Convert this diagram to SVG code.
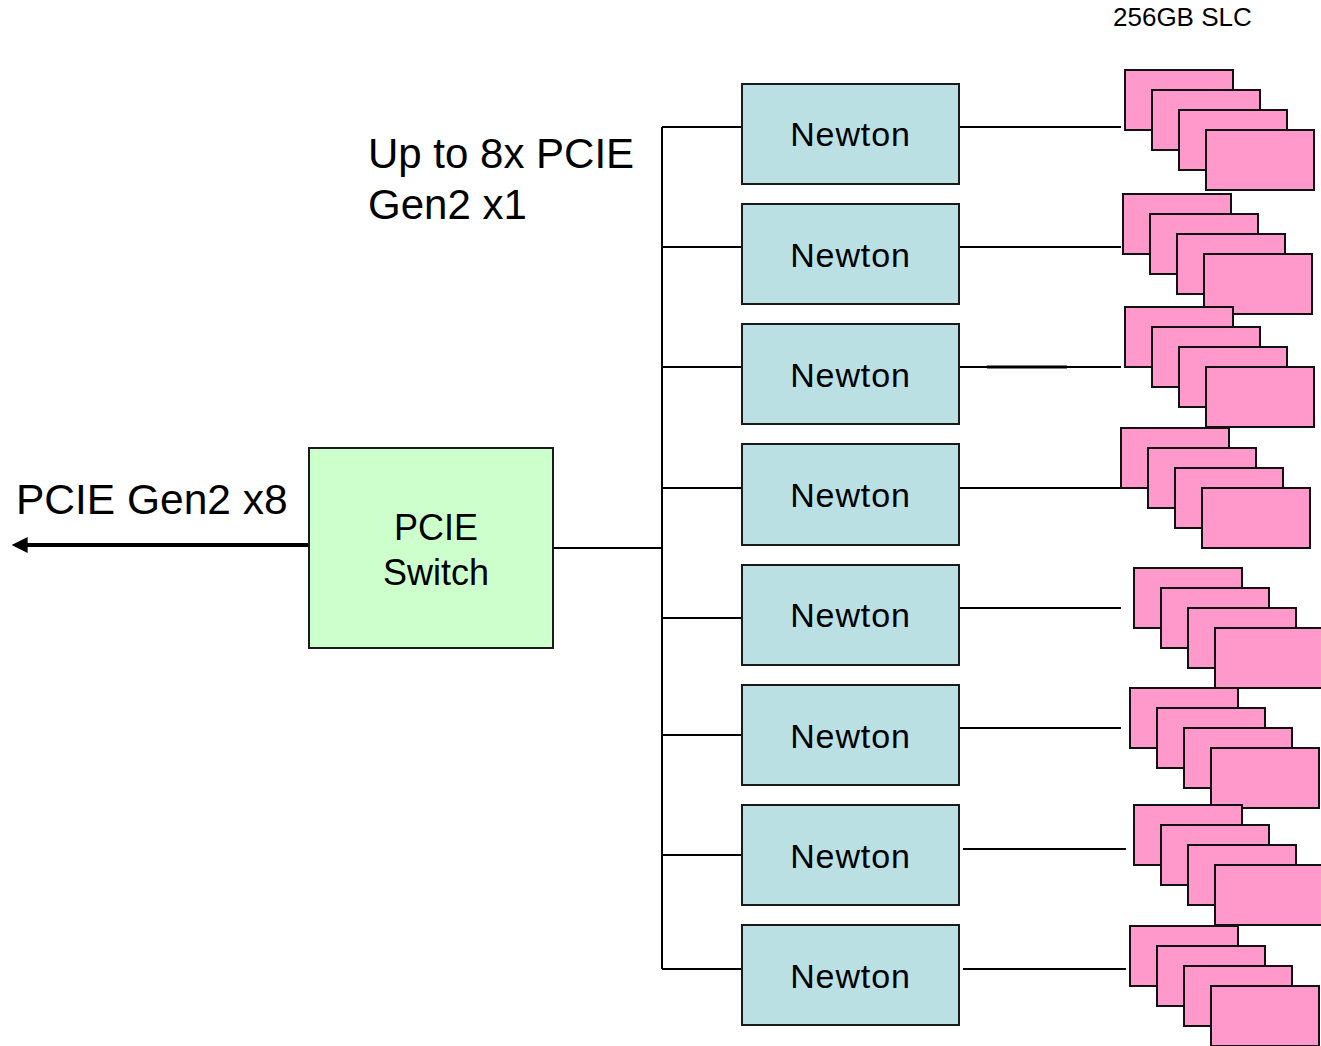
<svg xmlns="http://www.w3.org/2000/svg" width="1321" height="1046" viewBox="0 0 1321 1046">
<defs>
<style>
.t{font-family:"Liberation Sans",Arial,sans-serif;fill:#000}
.nw{fill:#BBE0E3;stroke:#1a1a1a;stroke-width:2}
.sw{fill:#CCFFCC;stroke:#1a1a1a;stroke-width:2}
.pk{fill:#FF99CC;stroke:#111;stroke-width:2}
.ln{stroke:#000;stroke-width:2;fill:none}
.nt{font-size:34px;letter-spacing:0.9px}
</style>
<marker id="ah" viewBox="0 0 10 10" refX="1" refY="5" markerWidth="4.5" markerHeight="4" orient="auto-start-reverse" markerUnits="strokeWidth">
<path d="M0,0 L10,5 L0,10 z" fill="#000"/>
</marker>
<g id="stack">
<rect class="pk" x="0" y="0" width="108" height="60"/>
<rect class="pk" x="27" y="20" width="108" height="60"/>
<rect class="pk" x="54" y="40" width="108" height="60"/>
<rect class="pk" x="81" y="60" width="108" height="60"/>
</g>
</defs>
<rect width="1321" height="1046" fill="#fff"/>

<g id="connectors">
<line x1="309" y1="545" x2="26" y2="545" stroke="#000" stroke-width="4" marker-end="url(#ah)"/>
<polyline class="ln" points="553,548 662,548"/>
<line class="ln" x1="662" y1="127" x2="662" y2="969"/>
<line class="ln" x1="662" y1="127" x2="742" y2="127"/>
<line class="ln" x1="662" y1="247" x2="742" y2="247"/>
<line class="ln" x1="662" y1="367" x2="742" y2="367"/>
<line class="ln" x1="662" y1="488" x2="742" y2="488"/>
<line class="ln" x1="662" y1="618" x2="742" y2="618"/>
<line class="ln" x1="662" y1="735" x2="742" y2="735"/>
<line class="ln" x1="662" y1="855" x2="742" y2="855"/>
<line class="ln" x1="662" y1="969" x2="742" y2="969"/>
<line class="ln" x1="959" y1="127" x2="1121" y2="127"/>
<line class="ln" x1="959" y1="247" x2="1121" y2="247"/>
<line class="ln" x1="959" y1="367" x2="1121" y2="367"/>
<line x1="987" y1="367" x2="1067" y2="367" stroke="#000" stroke-width="3"/>
<line class="ln" x1="959" y1="488" x2="1121" y2="488"/>
<line class="ln" x1="959" y1="608" x2="1121" y2="608"/>
<line class="ln" x1="959" y1="728" x2="1121" y2="728"/>
<line class="ln" x1="963" y1="849" x2="1126" y2="849"/>
<line class="ln" x1="963" y1="969" x2="1126" y2="969"/>
</g>

<g id="label-pcie-gen2-x8"><text class="t" x="16" y="514" font-size="42.5">PCIE Gen2 x8</text></g>
<g id="label-upto"><text class="t" x="368" y="168" font-size="42">Up to 8x PCIE</text><text class="t" x="368" y="219" font-size="42">Gen2 x1</text></g>
<g id="label-slc"><text class="t" x="1113" y="26" font-size="26">256GB SLC</text></g>

<g id="pcie-switch">
<rect class="sw" x="309" y="448" width="244" height="200"/>
<text class="t" x="436" y="540" font-size="36" text-anchor="middle">PCIE</text>
<text class="t" x="436" y="585" font-size="36" text-anchor="middle">Switch</text>
</g>

<g id="newton-1"><rect class="nw" x="742" y="84" width="217" height="100"/><text class="t nt" x="850.5" y="146" text-anchor="middle">Newton</text></g>
<g id="newton-2"><rect class="nw" x="742" y="204" width="217" height="100"/><text class="t nt" x="850.5" y="267" text-anchor="middle">Newton</text></g>
<g id="newton-3"><rect class="nw" x="742" y="324" width="217" height="100"/><text class="t nt" x="850.5" y="387" text-anchor="middle">Newton</text></g>
<g id="newton-4"><rect class="nw" x="742" y="444" width="217" height="101"/><text class="t nt" x="850.5" y="507" text-anchor="middle">Newton</text></g>
<g id="newton-5"><rect class="nw" x="742" y="565" width="217" height="100"/><text class="t nt" x="850.5" y="627" text-anchor="middle">Newton</text></g>
<g id="newton-6"><rect class="nw" x="742" y="685" width="217" height="100"/><text class="t nt" x="850.5" y="748" text-anchor="middle">Newton</text></g>
<g id="newton-7"><rect class="nw" x="742" y="805" width="217" height="100"/><text class="t nt" x="850.5" y="868" text-anchor="middle">Newton</text></g>
<g id="newton-8"><rect class="nw" x="742" y="925" width="217" height="100"/><text class="t nt" x="850.5" y="988" text-anchor="middle">Newton</text></g>

<g id="flash-1"><use href="#stack" x="1125" y="70"/></g>
<g id="flash-2"><use href="#stack" x="1123" y="194"/></g>
<g id="flash-3"><use href="#stack" x="1125" y="307"/></g>
<g id="flash-4"><use href="#stack" x="1121" y="428"/></g>
<g id="flash-5"><use href="#stack" x="1134" y="568"/></g>
<g id="flash-6"><use href="#stack" x="1130" y="688"/></g>
<g id="flash-7"><use href="#stack" x="1134" y="805"/></g>
<g id="flash-8"><use href="#stack" x="1130" y="926"/></g>
</svg>
